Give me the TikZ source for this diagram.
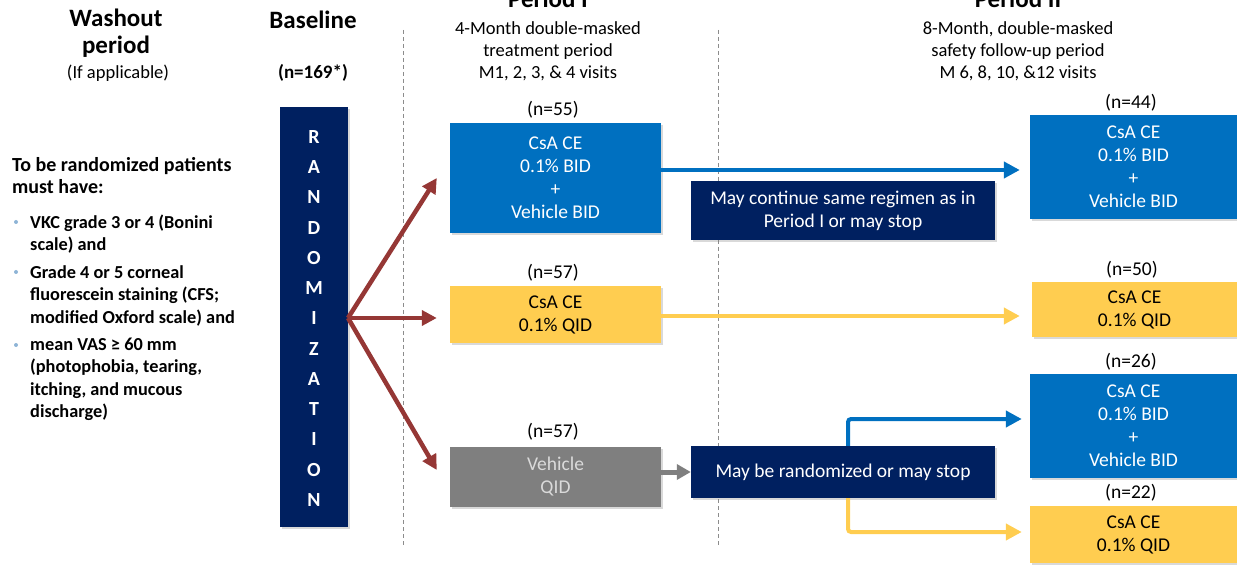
\documentclass[tikz,border=0pt]{standalone}
\usepackage{fontspec}
\setmainfont{Carlito}
\usetikzlibrary{arrows.meta, calc, shadows}
\definecolor{navy}{HTML}{002060}
\definecolor{armblue}{HTML}{0070C0}
\definecolor{armyellow}{HTML}{FFCD50}
\definecolor{armgray}{HTML}{7F7F7F}
\definecolor{vehtext}{HTML}{DADADA}
\definecolor{randred}{HTML}{953735}
\definecolor{divline}{HTML}{8C8C8C}
\definecolor{bulletblue}{HTML}{8EB4D6}
\tikzset{
  box/.style={rectangle, align=center, inner sep=0pt,
              font=\fontsize{19.5}{23}\selectfont,
              drop shadow={opacity=0.3, shadow xshift=1.5pt, shadow yshift=-2pt}},
  bluebox/.style={box, fill=armblue, text=white},
  yellowbox/.style={box, fill=armyellow, text=black},
  graybox/.style={box, fill=armgray, text=vehtext},
  navybox/.style={box, fill=navy, text=white},
  count/.style={font=\fontsize{19.5}{22}\selectfont},
  head/.style={font=\fontsize{25}{27}\selectfont\bfseries, align=center},
  subhead/.style={font=\fontsize{18.5}{22}\selectfont, align=center},
  crit/.style={font=\fontsize{18.3}{22.5}\selectfont\bfseries, align=left, anchor=west, inner sep=0pt},
  randletter/.style={font=\fontsize{20}{22}\selectfont\bfseries, text=white, inner sep=0pt},
  bulletdot/.style={circle, fill=bulletblue, inner sep=0pt, minimum size=4pt},
  divider/.style={draw=divline, line width=1pt, dash pattern=on 4pt off 3pt},
  randarrow/.style={-{Triangle[length=15pt, width=15pt]}, line width=4.5pt, draw=randred},
  bluearrow/.style={-{Triangle[length=16pt, width=16pt]}, line width=4pt, draw=armblue,
                    rounded corners=3pt},
  yellowarrow/.style={-{Triangle[length=16pt, width=16pt]}, line width=4pt, draw=armyellow,
                      rounded corners=3pt},
  grayarrow/.style={-{Triangle[length=14pt, width=15pt]}, line width=5pt, draw=armgray},
}

\begin{document}
\begin{tikzpicture}[x=1pt, y=-1pt]
\useasboundingbox (0,0) rectangle (1237,569);

% Column headings
\node[head] (washout) at (116,33) {Washout\\period};
\node[subhead] (ifapp) at (118,73) {(If applicable)};
\node[head] (baseline) at (313,20) {Baseline};
\node[subhead, font=\fontsize{19}{22}\selectfont\bfseries] (nbase) at (313,73) {(n=169*)};
\node[head, anchor=base] (per1) at (548,8) {Period I};
\node[subhead] (per1sub) at (548,51) {4-Month double-masked\\treatment period\\M1, 2, 3, \& 4 visits};
\node[head, anchor=base] (per2) at (1018,8) {Period II};
\node[subhead] (per2sub) at (1018,51) {8-Month, double-masked\\safety follow-up period\\M 6, 8, 10, \&12 visits};

% Dividers between the phases
\coordinate (divAtop) at (403,30);
\coordinate (divAbot) at (403,545);
\coordinate (divBtop) at (718,30);
\coordinate (divBbot) at (718,545);
\draw[divider] (divAtop) -- (divAbot);
\draw[divider] (divBtop) -- (divBbot);

% Entry criteria
\node[crit, font=\fontsize{20}{22.5}\selectfont\bfseries] (crithead) at (12,175.5) {To be randomized patients\\must have:};
\node[crit] (item1) at (30,234) {VKC grade 3 or 4 (Bonini\\scale) and};
\node[crit] (item2) at (30,295.5) {Grade 4 or 5 corneal\\fluorescein staining (CFS;\\modified Oxford scale) and};
\node[crit] (item3) at (30,379.5) {mean VAS ≥ 60 mm\\(photophobia, tearing,\\itching, and mucous\\discharge)};
\node[bulletdot] (dot1) at (16,222) {};
\node[bulletdot] (dot2) at (16,272) {};
\node[bulletdot] (dot3) at (16,345) {};

% Randomization bar
\node[navybox, minimum width=68pt, minimum height=420pt] (rand) at (314,317) {};
\foreach \l [count=\i] in {R,A,N,D,O,M,I,Z,A,T,I,O,N} {
  \node[randletter] (rl\i) at (314,{137+30.25*(\i-1)}) {\l};
}
\coordinate (fork) at (348,318);

% Period I arms
\node[bluebox, minimum width=211pt, minimum height=110pt] (arm1) at (555.5,178) {CsA CE\\0.1\% BID\\+\\Vehicle BID};
\node[yellowbox, minimum width=211pt, minimum height=57pt] (arm2) at (555.5,314.5) {CsA CE\\0.1\% QID};
\node[graybox, minimum width=211pt, minimum height=60pt] (arm3) at (555.5,477) {Vehicle\\QID};
\node[count] (n55) at (553,110) {(n=55)};
\node[count] (n57a) at (553,273) {(n=57)};
\node[count] (n57b) at (553,432) {(n=57)};

% Transition notes
\node[navybox, minimum width=304pt, minimum height=59pt] (cont) at (843,210.5) {May continue same regimen as in\\Period I or may stop};
\node[navybox, minimum width=304pt, minimum height=52pt] (rerand) at (843,472) {May be randomized or may stop};

% Period II arms
\node[bluebox, minimum width=207pt, minimum height=104pt] (out1) at (1133.5,167) {CsA CE\\0.1\% BID\\+\\Vehicle BID};
\node[yellowbox, minimum width=205pt, minimum height=55pt] (out2) at (1134.5,309.5) {CsA CE\\0.1\% QID};
\node[bluebox, minimum width=207pt, minimum height=104pt] (out3) at (1133.5,426) {CsA CE\\0.1\% BID\\+\\Vehicle BID};
\node[yellowbox, minimum width=207pt, minimum height=57pt] (out4) at (1133.5,534.5) {CsA CE\\0.1\% QID};
\node[count] (n44) at (1131,103) {(n=44)};
\node[count] (n50) at (1132,270) {(n=50)};
\node[count] (n26) at (1131,362) {(n=26)};
\node[count] (n22) at (1131,493) {(n=22)};

% Flow
\draw[randarrow] (fork) -- ($(arm1.west)+(-13,0)$);
\draw[randarrow] (fork) -- ($(arm2.west)+(-13,3.5)$);
\draw[randarrow] (fork) -- ($(arm3.west)+(-13,-7)$);
\draw[bluearrow] (arm1.east |- out1.west) ++(0,3) coordinate (b1) -- ($(out1.west)+(-10,3)$);
\draw[yellowarrow] (arm2.east |- out2.west) ++(0,6.5) coordinate (y1) -- ($(out2.west)+(-12,6.5)$);
\draw[grayarrow] (arm3.east |- rerand.west) -- (rerand.west);
\draw[bluearrow] ($(rerand.north)+(5,0)$) |- ($(out3.west)+(-8,-7)$);
\draw[yellowarrow] ($(rerand.south)+(5,0)$) |- ($(out4.west)+(-8,-2.5)$);

\end{tikzpicture}
\end{document}
